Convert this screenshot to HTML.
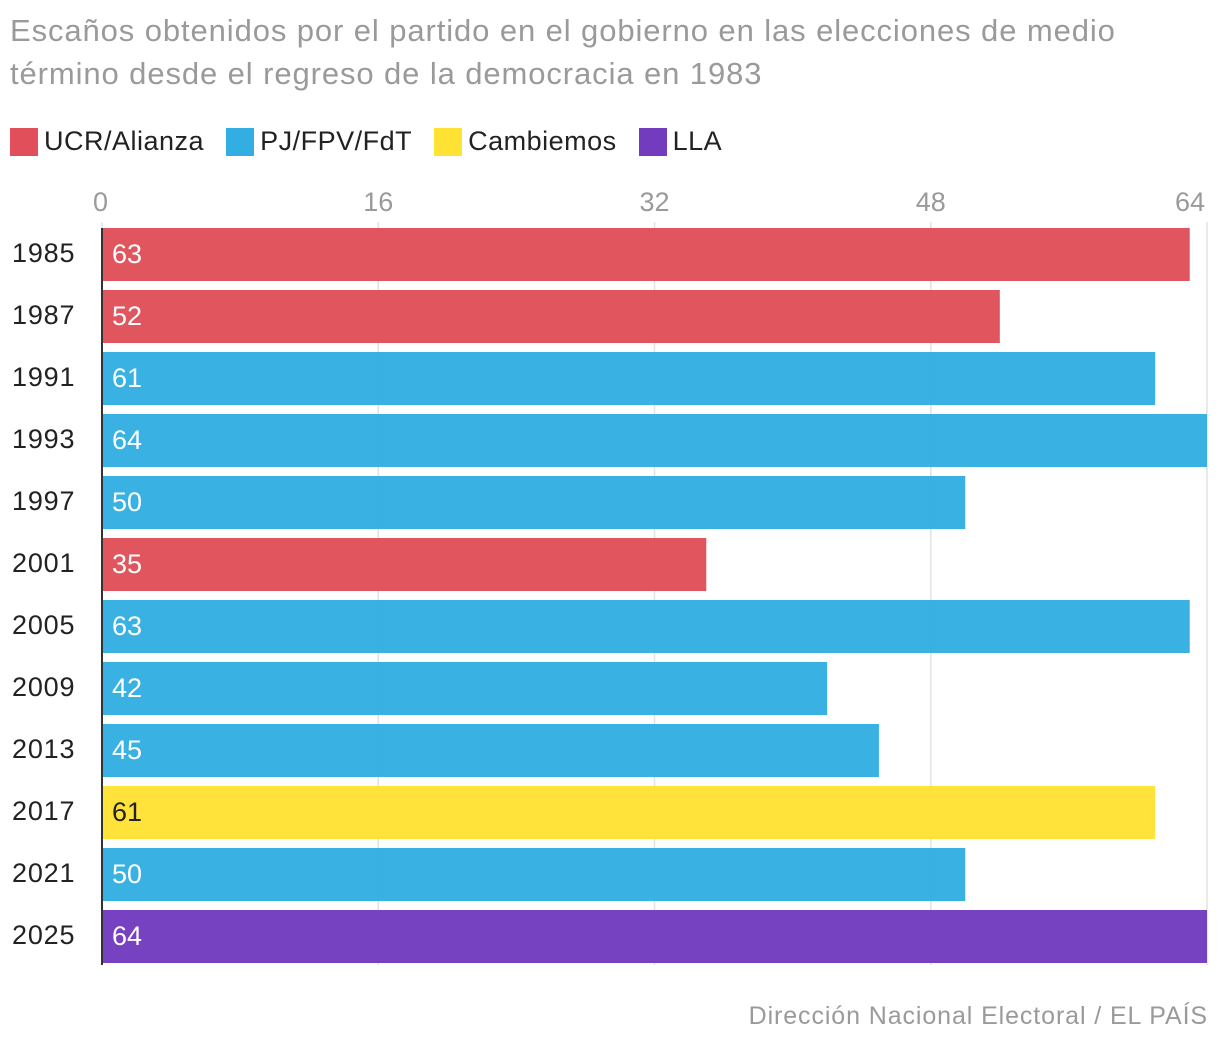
<!DOCTYPE html>
<html><head><meta charset="utf-8"><style>
body{margin:0;width:1220px;height:1048px;background:#fff;font-family:"Liberation Sans",sans-serif;overflow:hidden;position:relative}
.title{position:absolute;left:10px;top:9px;font-size:31px;line-height:43px;color:#9a9a9a;width:1210px;letter-spacing:0.9px;white-space:nowrap}
.legend{position:absolute;left:10px;top:126px;display:flex;font-size:27px;color:#222;align-items:center;letter-spacing:0.5px}
.legend span.sw{display:inline-block;width:28px;height:28px;margin-right:6px}
.legend div{display:flex;align-items:center;margin-right:22px}
.source{position:absolute;right:12px;top:1002px;font-size:25px;color:#9a9a9a;letter-spacing:0.9px}
</style></head><body>
<div class="title">Escaños obtenidos por el partido en el gobierno en las elecciones de medio<br>término desde el regreso de la democracia en 1983</div>
<div class="legend">
<div><span class="sw" style="background:#e04f5a"></span>UCR/Alianza</div>
<div><span class="sw" style="background:#33aee2"></span>PJ/FPV/FdT</div>
<div><span class="sw" style="background:#ffe234"></span>Cambiemos</div>
<div><span class="sw" style="background:#733cbf"></span>LLA</div>
</div>
<svg id="chart" width="1220" height="1048" style="position:absolute;left:0;top:0"></svg>
<div class="source">Dirección Nacional Electoral / EL PAÍS</div>
<script>
const years=["1985","1987","1991","1993","1997","2001","2005","2009","2013","2017","2021","2025"];
const seats=[63,52,61,64,50,35,63,42,45,61,50,64];
const parties=["ucr","ucr","pj","pj","pj","ucr","pj","pj","pj","cam","pj","lla"];
const ticks=[0,16,32,48,64];
const colors={ucr:"#e04f5a",pj:"#33aee2",cam:"#ffe234",lla:"#733cbf"};
const NS="http://www.w3.org/2000/svg";
const svg=document.getElementById('chart');
const x=v=>102+v*(1105/64);
const y=i=>228+i*62;
function mk(t,a){const e=document.createElementNS(NS,t);for(const k in a)e.setAttribute(k,a[k]);svg.appendChild(e);return e;}
ticks.forEach(t=>{
 const l=mk('line',{x1:x(t),x2:x(t),y1:222,y2:965,stroke:'#e2e2e2','stroke-width':1.5});
 
 
 const tx=mk('text',{x:t===64?x(t)-17:x(t),y:211,'font-size':27,fill:'#9a9a9a','text-anchor':t===0?'start':'middle','font-family':'Liberation Sans'});
 if(t===0)tx.setAttribute('x',93);
 tx.textContent=t;
 
 
});
years.forEach((yr,i)=>{
 const r=mk('rect',{x:x(0),y:y(i),width:x(seats[i])-x(0),height:53,fill:colors[parties[i]],opacity:0.97});
 
 
 const lb=mk('text',{x:12,y:y(i)+34,'font-size':27,fill:'#222','font-family':'Liberation Sans','letter-spacing':'0.8'});
 lb.textContent=yr;
 
 
 const v=mk('text',{x:112,y:y(i)+35,'font-size':27,fill:parties[i]==='cam'?'#222':'#fff','font-family':'Liberation Sans'});
 v.textContent=seats[i];
 
 
});
const ax=mk('line',{x1:102,x2:102,y1:228,y2:965,stroke:'#333','stroke-width':2});


</script>
</body></html>
